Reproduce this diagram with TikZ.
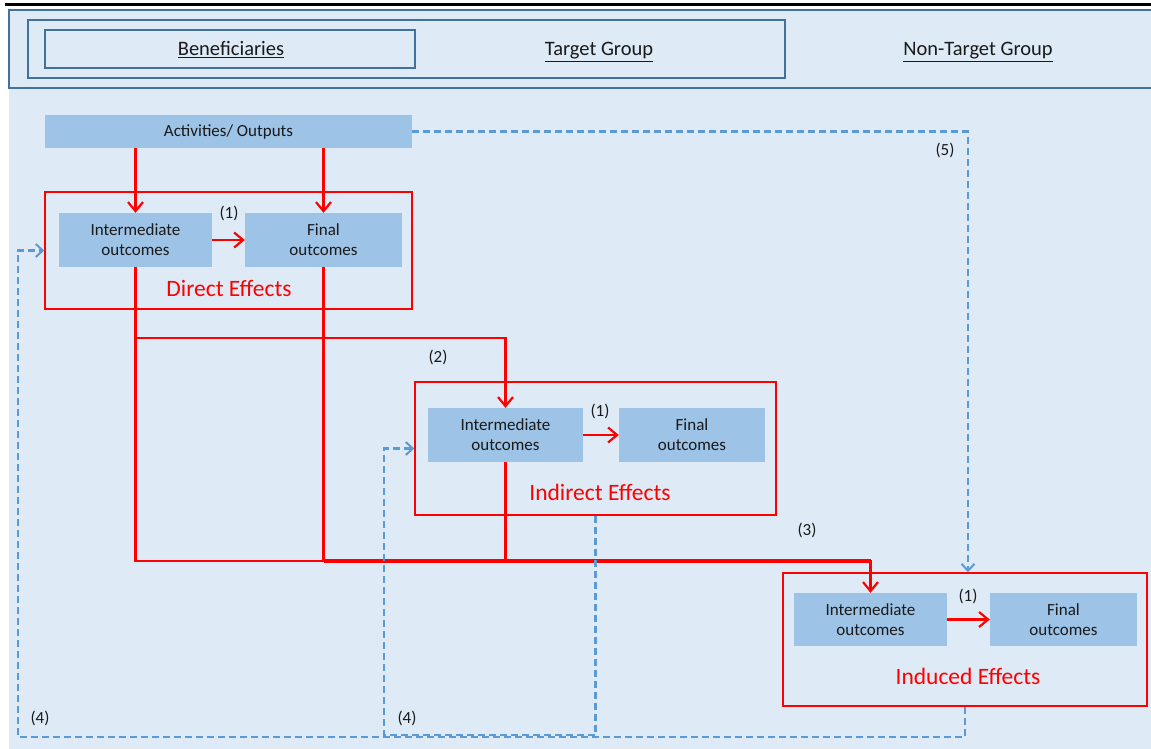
\documentclass[tikz,border=0pt]{standalone}
\usepackage{fontspec}
\setmainfont{Carlito}
\usetikzlibrary{arrows.meta}
\definecolor{bgblue}{HTML}{DEEAF6}
\definecolor{boxblue}{HTML}{9DC3E6}
\definecolor{hdrblue}{HTML}{41719C}
\definecolor{dashblue}{HTML}{5B9BD5}
\definecolor{txt}{HTML}{1A1A1A}
\tikzset{
  outbox/.style={fill=boxblue, inner sep=0pt, align=center, text=txt,
    font=\fontsize{17}{20}\selectfont},
  frame/.style={draw=red, line width=1.5pt, inner sep=0pt},
  hdrbox/.style={draw=hdrblue, line width=2pt, inner sep=0pt},
  hdrtext/.style={text=txt, anchor=base, inner sep=0pt, font=\fontsize{20.5}{24}\selectfont},
  efftext/.style={text=red, font=\fontsize{23.5}{27}\selectfont},
  numlabel/.style={text=txt, font=\fontsize{17}{20}\selectfont},
  redarrow/.style={draw=red, line width=2.2pt, -{Straight Barb[length=9pt,width=15pt,line width=2.2pt]}},
  redline/.style={draw=red, line width=2.2pt},
  bluedash/.style={draw=dashblue, line width=2.4pt, dash pattern=on 7pt off 4pt,
    -{Straight Barb[length=7pt,width=13pt,line width=2pt]}},
}
\begin{document}
\begin{tikzpicture}[x=1pt,y=-1pt]
\useasboundingbox (0,0) rectangle (1151,749);
% backgrounds
\fill[white] (0,0) rectangle (1151,749);
\fill[bgblue] (9,10) rectangle (1151,749);
\draw[black, line width=3pt] (5,5) -- (1151,5);
\draw[hdrblue, line width=2pt] (1153,10) -- (9,10) -- (9,88) -- (1153,88);
% header
\node[hdrbox, minimum width=757, minimum height=58] (tg) at (406.5,49) {};
\node[hdrbox, minimum width=370, minimum height=38] (ben) at (230,49) {};
\node[hdrtext] (bent) at (231,56) {\underline{Beneficiaries}};
\node[hdrtext] (tgt) at (599,56) {\underline{Target Group}};
\node[hdrtext] (ntg) at (978,56) {\underline{Non-Target Group}};
% activities
\node[outbox, minimum width=367, minimum height=33] (act) at (228.5,131.5) {Activities/ Outputs};
% direct
\node[frame, minimum width=367, minimum height=117] (dir) at (228.5,250.5) {};
\node[outbox, minimum width=153, minimum height=54] (dI) at (135.5,240) {Intermediate\\outcomes};
\node[outbox, minimum width=157, minimum height=54] (dF) at (323.5,240) {Final\\outcomes};
\node[numlabel] (n1a) at (229,213) {(1)};
\node[efftext] (dirt) at (229,288) {Direct Effects};
% indirect
\node[frame, minimum width=361, minimum height=133] (indr) at (595.5,448.5) {};
\node[outbox, minimum width=155, minimum height=54] (iI) at (505.5,435) {Intermediate\\outcomes};
\node[outbox, minimum width=146, minimum height=54] (iF) at (692,435) {Final\\outcomes};
\node[numlabel] (n1b) at (600,411) {(1)};
\node[efftext] (indrt) at (600,492) {Indirect Effects};
% induced
\node[frame, minimum width=364, minimum height=133] (ind) at (965,639.5) {};
\node[outbox, minimum width=153, minimum height=53] (uI) at (870.5,619.5) {Intermediate\\outcomes};
\node[outbox, minimum width=147, minimum height=53] (uF) at (1063.5,619.5) {Final\\outcomes};
\node[numlabel] (n1c) at (968,596) {(1)};
\node[efftext] (indt) at (968,676) {Induced Effects};
% labels
\node[numlabel] (n2) at (438,357) {(2)};
\node[numlabel] (n3) at (807,530) {(3)};
\node[numlabel] (n5) at (945,150) {(5)};
\node[numlabel] (n4a) at (40,718) {(4)};
\node[numlabel] (n4b) at (407,718) {(4)};
% red connectors
\coordinate (j2) at (0,338);
\coordinate (j3) at (0,561);
\draw[redarrow] (dI |- act.south) -- (dI.north);
\draw[redarrow] (dF |- act.south) -- (dF.north);
\draw[redarrow] (dI.east) -- (dF.west);
\draw[redarrow] (iI.east) -- (iF.west);
\draw[redarrow] (uI.east) -- (uF.west);
\draw[redarrow] (dI.south) -- (dI.south |- j2) -| (iI.north);
\draw[redline] (dF.south) -- (dF.south |- j3) -- (j3 -| uI.north);
\draw[redline] (iI.south) -- (iI.south |- j3);
\draw[redarrow] (dI.south) -- (dI.south |- j3) -| (uI.north);
\draw[red, line width=3.2pt] (dF.south |- j3) -- (j3 -| uI.north);
% blue dashed connectors
\coordinate (c5) at (968,0);
\coordinate (bA) at (18,737);
\coordinate (bB) at (384,735);
\draw[bluedash] (act.east) -| (ind.north -| c5);
\draw[bluedash] (ind.south) |- (bA) |- (dir.west);
\draw[bluedash] (indr.south) |- (bB) |- (indr.west);
\end{tikzpicture}
\end{document}
